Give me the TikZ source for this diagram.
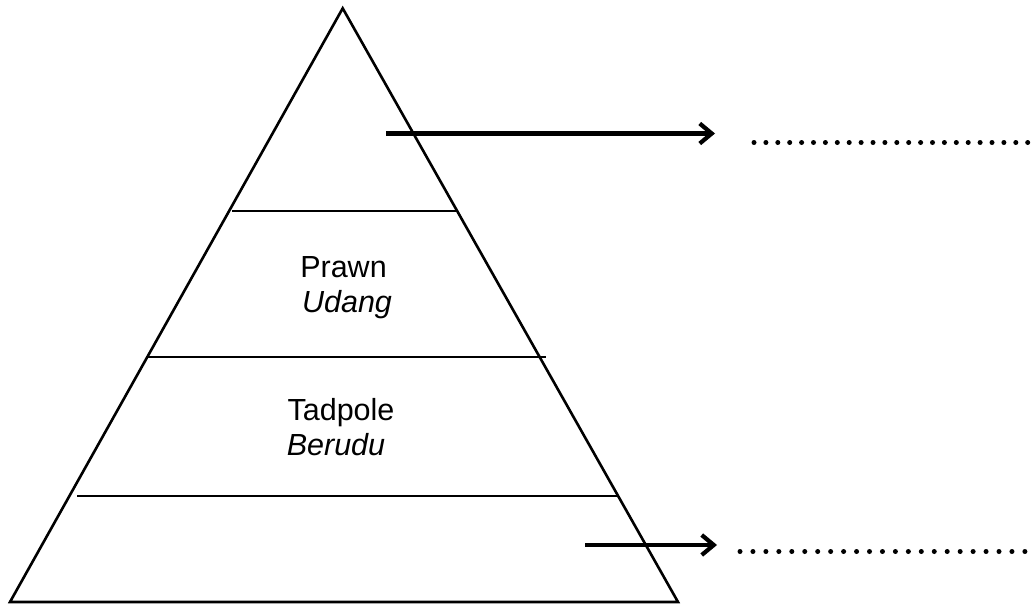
\documentclass[tikz,border=0pt]{standalone}
\usepackage{fontspec}
\setmainfont{Liberation Sans}
\usetikzlibrary{arrows.meta}
\begin{document}
\begin{tikzpicture}[x=1pt,y=-1pt,
  edge/.style={line width=2.6pt,line join=miter},
  level/.style={line width=2.8pt},
  pointer/.style={line width=4.2pt,-{Straight Barb[length=12pt,width=20pt,line width=4.2pt]}},
  lbl/.style={anchor=base,inner sep=0pt,font=\fontsize{30.5}{36}\selectfont},
  dotmark/.style={fill=black,draw=none}]
\useasboundingbox (0,0) rectangle (1036,605);
% pyramid
\coordinate (apex) at (342.7,8.3);
\coordinate (bl) at (10,602);
\coordinate (br) at (678,602);
\draw[edge] (apex) -- (br) -- (bl) -- cycle;
% levels
\coordinate (l1a) at (232,211); \coordinate (l1b) at (457,211);
\coordinate (l2a) at (148,357); \coordinate (l2b) at (546,357);
\coordinate (l3a) at (77,496);  \coordinate (l3b) at (619,496);
\draw[level] (l1a) -- (l1b);
\draw[level] (l2a) -- (l2b);
\draw[level] (l3a) -- (l3b);
% labels
\node[lbl] (prawn) at (343.5,277) {Prawn};
\node[lbl] (udang) at (347,312) {\itshape Udang};
\node[lbl] (tadpole) at (341,420) {Tadpole};
\node[lbl] (berudu) at (336,455) {\itshape Berudu};
% arrows
\coordinate (a1s) at (386,133.5); \coordinate (a1e) at (715,133.5);
\coordinate (a2s) at (585,545);   \coordinate (a2e) at (717,545);
\draw[pointer] (a1s) -- (a1e);
\draw[pointer] (a2s) -- (a2e);
% dotted answer lines
\foreach \i in {0,...,23} {
  \fill[dotmark] ({754+\i*11.9},142.5) circle (2.5);
}
\foreach \i in {0,...,22} {
  \fill[dotmark] ({740+\i*12.95},551.5) circle (2.5);
}
\end{tikzpicture}
\end{document}
